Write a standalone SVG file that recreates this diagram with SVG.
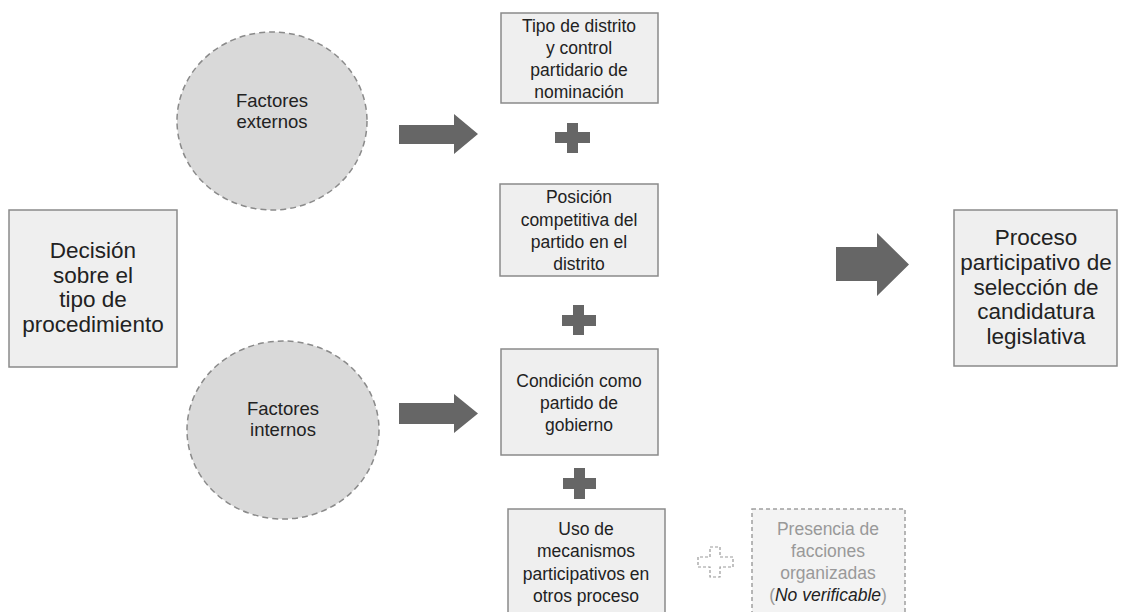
<svg xmlns="http://www.w3.org/2000/svg" width="1125" height="612" viewBox="0 0 1125 612">
<style>
.box{fill:#efefef;stroke:#8a8a8a;stroke-width:1.5}
.dbox{fill:#f3f3f3;stroke:#a0a0a0;stroke-width:1.5;stroke-dasharray:4 3}
.circ{fill:#d9d9d9;stroke:#8a8a8a;stroke-width:1.5;stroke-dasharray:6 4}
.t{font-family:"Liberation Sans",Arial,sans-serif;fill:#222;text-anchor:middle}
.s{font-size:17.5px}
.c{font-size:18.5px}
.l{font-size:22.5px}
.g{fill:#999}
.arr{fill:#666}
.dplus{fill:none;stroke:#999;stroke-width:1.2;stroke-dasharray:3 2}
</style>
<rect width="1125" height="612" fill="#fff"/>
<g id="decision">
<rect class="box" x="9" y="210" width="168" height="157"/>
<text class="t l" x="93" y="258">Decisión</text>
<text class="t l" x="93" y="283">sobre el</text>
<text class="t l" x="93" y="307">tipo de</text>
<text class="t l" x="93" y="332">procedimiento</text>
</g>
<g id="factores-externos">
<ellipse class="circ" cx="272" cy="121" rx="95" ry="89"/>
<text class="t c" x="272" y="107">Factores</text>
<text class="t c" x="272" y="128">externos</text>
</g>
<g id="factores-internos">
<ellipse class="circ" cx="283" cy="430" rx="96" ry="89"/>
<text class="t c" x="283" y="415">Factores</text>
<text class="t c" x="283" y="436">internos</text>
</g>
<g id="tipo-distrito">
<rect class="box" x="501" y="13" width="157" height="90"/>
<text class="t s" x="579" y="32">Tipo de distrito</text>
<text class="t s" x="579" y="54">y control</text>
<text class="t s" x="579" y="76">partidario de</text>
<text class="t s" x="579" y="98">nominación</text>
</g>
<g id="posicion">
<rect class="box" x="500" y="184" width="158" height="92"/>
<text class="t s" x="579" y="203">Posición</text>
<text class="t s" x="579" y="226">competitiva del</text>
<text class="t s" x="579" y="248">partido en el</text>
<text class="t s" x="579" y="270">distrito</text>
</g>
<g id="condicion">
<rect class="box" x="501" y="349" width="157" height="106"/>
<text class="t s" x="579" y="387">Condición como</text>
<text class="t s" x="579" y="409">partido de</text>
<text class="t s" x="579" y="431">gobierno</text>
</g>
<g id="uso-mecanismos">
<rect class="box" x="508" y="509" width="157" height="110"/>
<text class="t s" x="586" y="535">Uso de</text>
<text class="t s" x="586" y="557">mecanismos</text>
<text class="t s" x="586" y="580">participativos en</text>
<text class="t s" x="586" y="602">otros proceso</text>
</g>
<g id="facciones">
<rect class="dbox" x="752" y="509" width="153" height="110"/>
<text class="t s g" x="828" y="535">Presencia de</text>
<text class="t s g" x="828" y="557">facciones</text>
<text class="t s g" x="828" y="579">organizadas</text>
<text class="t s g" x="828" y="601">(<tspan font-style="italic" fill="#222">No verificable</tspan>)</text>
</g>
<g id="proceso">
<rect class="box" x="954" y="210" width="163" height="156"/>
<text class="t l" x="1036" y="245">Proceso</text>
<text class="t l" x="1036" y="270">participativo de</text>
<text class="t l" x="1036" y="295">selección de</text>
<text class="t l" x="1036" y="319">candidatura</text>
<text class="t l" x="1036" y="344">legislativa</text>
</g>
<g id="connectors">
<polygon class="arr" points="399,125 454,125 454,114 478,134 454,154 454,144 399,144"/>
<polygon class="arr" points="399,403 454,403 454,394 478,413.5 454,433 454,424 399,424"/>
<polygon class="arr" points="836,247 877,247 877,233 909,264.5 877,296 877,281 836,281"/>
<path class="arr" d="M567,123h11v9h12v11h-12v10h-11v-10h-12v-11h12z"/>
<path class="arr" d="M573,305h11v10h12v11h-12v9h-11v-9h-11v-11h11z"/>
<path class="arr" d="M574,468h11v10h11v11h-11v10h-11v-10h-11v-11h11z"/>
<path class="dplus" d="M710,547h10v10h13v10h-13v10h-10v-10h-12v-10h12z"/>
</g>
</svg>
